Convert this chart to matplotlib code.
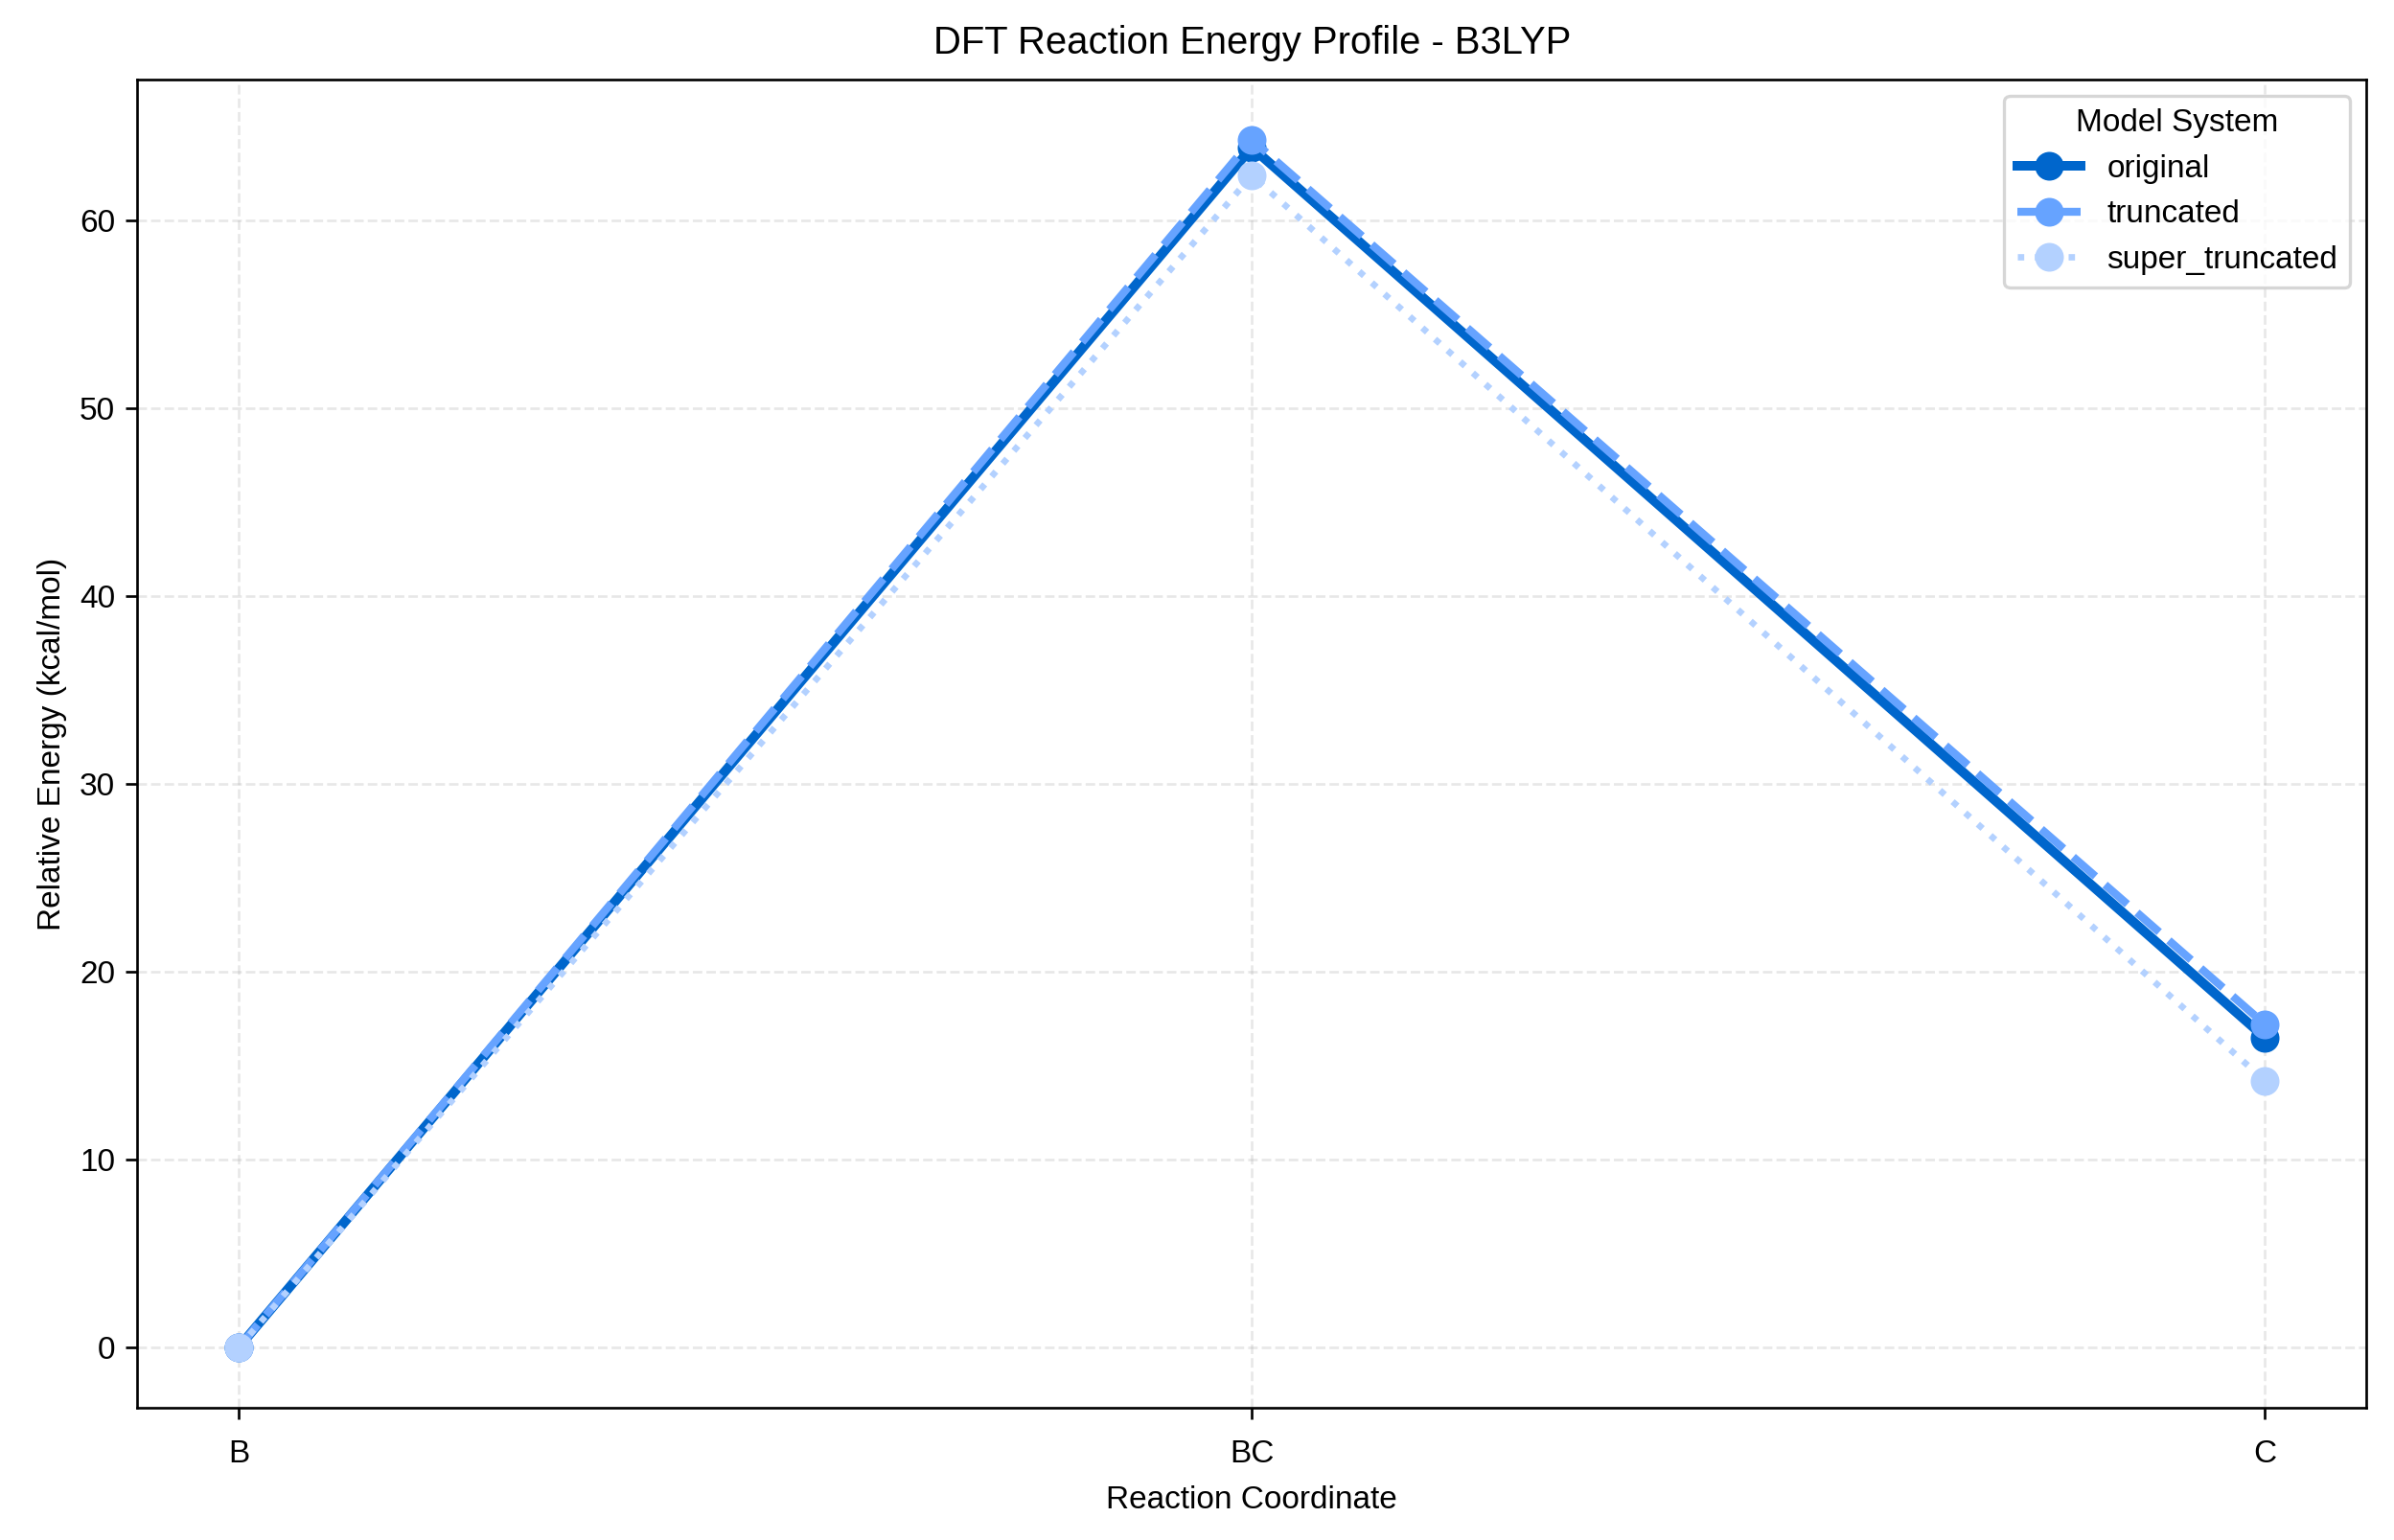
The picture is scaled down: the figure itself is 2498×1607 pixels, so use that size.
import matplotlib
matplotlib.use("Agg")
import matplotlib.pyplot as plt

plt.rcParams['font.family'] = ['Liberation Sans', 'DejaVu Sans']

states = ["B", "BC", "C"]
original = [0.0, 63.9, 16.5]
truncated = [0.0, 64.3, 17.2]
super_truncated = [0.0, 62.4, 14.2]

fig, ax = plt.subplots(figsize=(2498 / 240, 1607 / 240), dpi=240)
x = range(len(states))
ax.plot(x, original, marker='o', linestyle='-', linewidth=3, markersize=8,
        color='#0066cc', label='original')
ax.plot(x, truncated, marker='o', linestyle='--', linewidth=2.5, markersize=8,
        color='#66a3ff', label='truncated')
ax.plot(x, super_truncated, marker='o', linestyle=':', linewidth=2, markersize=8,
        color='#b3d1ff', label='super_truncated')

ax.set_xticks(list(x))
ax.set_xticklabels(states)
ax.tick_params(axis='x', pad=6.5)
ax.set_xlabel("Reaction Coordinate", labelpad=5)
ax.set_ylabel("Relative Energy (kcal/mol)")
ax.set_title("DFT Reaction Energy Profile - B3LYP", pad=8)
ax.grid(True, linestyle='--', alpha=0.3)
ax.legend(title="Model System", loc='upper right')

fig.subplots_adjust(left=0.0574, right=0.9884, top=0.9484, bottom=0.0859)
plt.savefig("out.png", dpi=240)
